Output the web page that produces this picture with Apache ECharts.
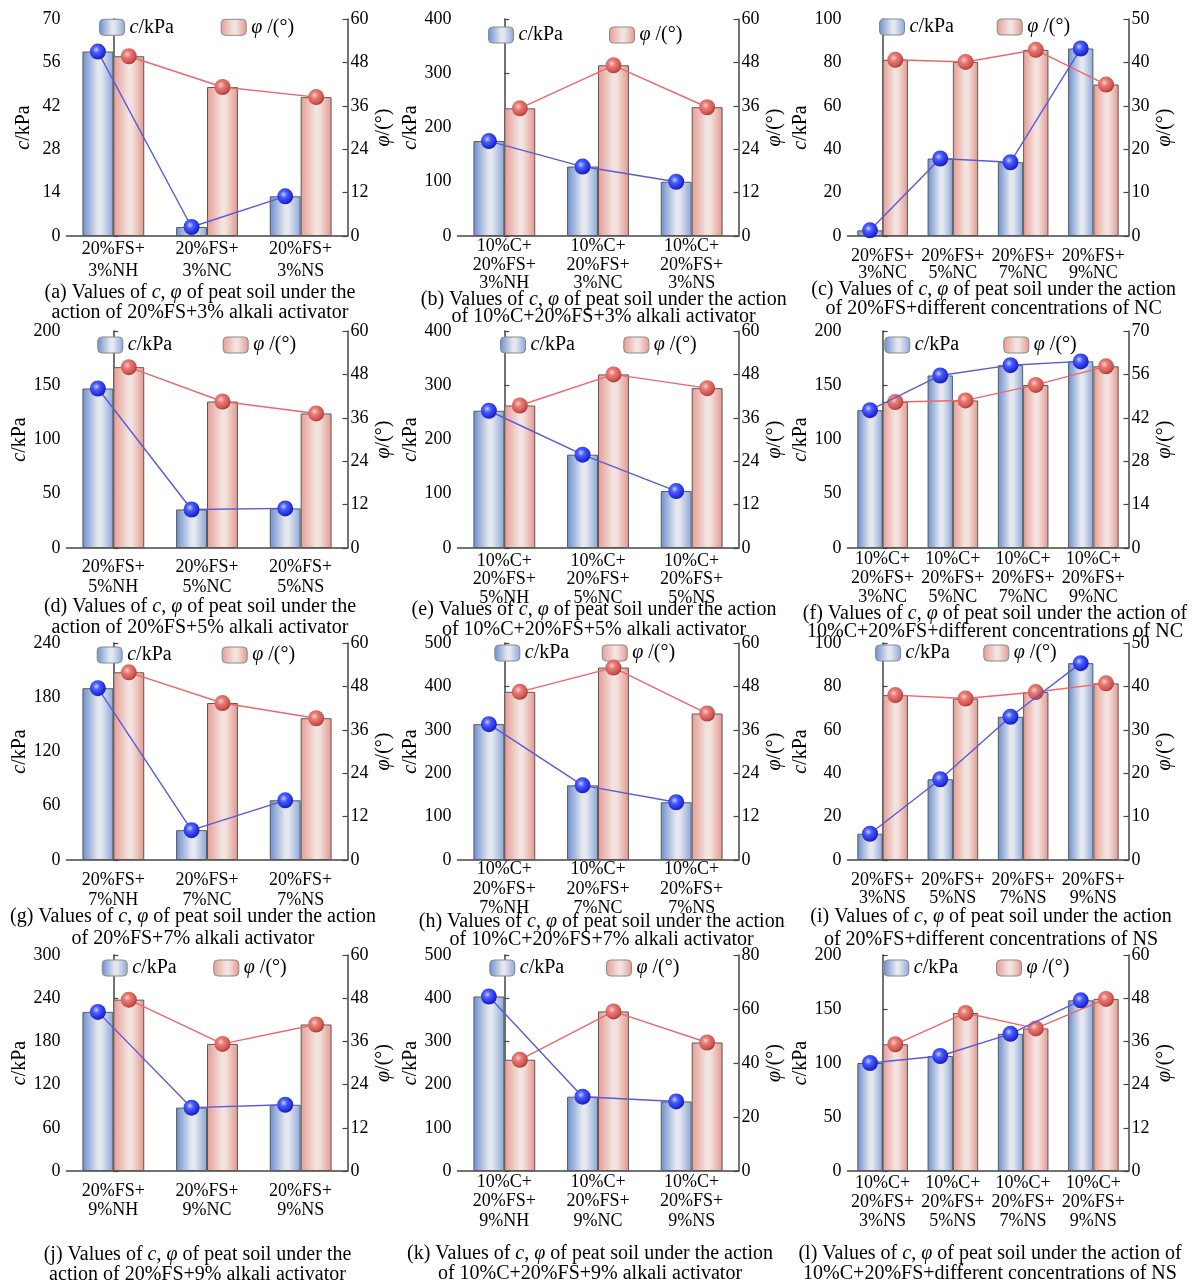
<!DOCTYPE html>
<html>
<head>
<meta charset="utf-8">
<script src="https://cdn.jsdelivr.net/npm/echarts@6/dist/echarts.min.js"></script>
<style>
html,body{margin:0;padding:0;background:#fff;}
#chart{width:1195px;height:1287px;}
</style>
</head>
<body>
<div id="chart"></div>
<script>
// ---- categories ----
const catsA = ['20%FS+\n3%NH', '20%FS+\n3%NC', '20%FS+\n3%NS'];
const catsB = ['10%C+\n20%FS+\n3%NH', '10%C+\n20%FS+\n3%NC', '10%C+\n20%FS+\n3%NS'];
const catsC = ['20%FS+\n3%NC', '20%FS+\n5%NC', '20%FS+\n7%NC', '20%FS+\n9%NC'];
const catsD = ['20%FS+\n5%NH', '20%FS+\n5%NC', '20%FS+\n5%NS'];
const catsE = ['10%C+\n20%FS+\n5%NH', '10%C+\n20%FS+\n5%NC', '10%C+\n20%FS+\n5%NS'];
const catsF = ['10%C+\n20%FS+\n3%NC', '10%C+\n20%FS+\n5%NC', '10%C+\n20%FS+\n7%NC', '10%C+\n20%FS+\n9%NC'];
const catsG = ['20%FS+\n7%NH', '20%FS+\n7%NC', '20%FS+\n7%NS'];
const catsH = ['10%C+\n20%FS+\n7%NH', '10%C+\n20%FS+\n7%NC', '10%C+\n20%FS+\n7%NS'];
const catsI = ['20%FS+\n3%NS', '20%FS+\n5%NS', '20%FS+\n7%NS', '20%FS+\n9%NS'];
const catsJ = ['20%FS+\n9%NH', '20%FS+\n9%NC', '20%FS+\n9%NS'];
const catsK = ['10%C+\n20%FS+\n9%NH', '10%C+\n20%FS+\n9%NC', '10%C+\n20%FS+\n9%NS'];
const catsL = ['10%C+\n20%FS+\n3%NS', '10%C+\n20%FS+\n5%NS', '10%C+\n20%FS+\n7%NS', '10%C+\n20%FS+\n9%NS'];

// ---- cohesion c (kPa) ----
const cA = [59.5, 2.9, 12.8];
const cB = [175, 128, 100];
const cC = [2.6, 35.7, 34.0, 86.4];
const cD = [147, 35.5, 36.5];
const cE = [253, 172, 105];
const cF = [127, 159, 168.5, 172];
const cG = [190, 33, 66];
const cH = [313, 172, 133];
const cI = [12.1, 37.2, 66, 90.7];
const cJ = [221, 88, 92];
const cK = [404, 172, 161];
const cL = [100, 106.5, 127, 158];

// ---- internal friction angle phi (deg) ----
const phiA = [49.7, 41.2, 38.4];
const phiB = [35.3, 47.2, 35.6];
const phiC = [40.6, 40.1, 42.9, 34.9];
const phiD = [50.0, 40.5, 37.2];
const phiE = [39.4, 48.0, 44.2];
const phiF = [47.1, 47.6, 52.6, 58.6];
const phiG = [51.9, 43.4, 39.2];
const phiH = [46.5, 53.2, 40.5];
const phiI = [38.0, 37.2, 38.7, 40.7];
const phiJ = [47.6, 35.3, 40.7];
const phiK = [41.2, 59.1, 47.6];
const phiL = [35.2, 43.9, 39.6, 47.8];

// ---- axis ticks (max, step) ----
const cAxisMax   = [70, 400, 100, 200, 400, 200, 240, 500, 100, 300, 500, 200];
const cAxisStep  = [14, 100, 20, 50, 100, 50, 60, 100, 20, 60, 100, 50];
const phiAxisMax  = [60, 60, 50, 60, 60, 70, 60, 60, 50, 60, 80, 60];
const phiAxisStep = [12, 12, 10, 12, 12, 14, 12, 12, 10, 12, 20, 12];

// ---- sub-figure captions ----
const capA = ['(a) Values of {i|c}, {i|φ} of peat soil under the', 'action of 20%FS+3% alkali activator'];
const capB = ['(b) Values of {i|c}, {i|φ} of peat soil under the action', 'of 10%C+20%FS+3% alkali activator'];
const capC = ['(c) Values of {i|c}, {i|φ} of peat soil under the action', 'of 20%FS+different concentrations of NC'];
const capD = ['(d) Values of {i|c}, {i|φ} of peat soil under the', 'action of 20%FS+5% alkali activator'];
const capE = ['(e) Values of {i|c}, {i|φ} of peat soil under the action', 'of 10%C+20%FS+5% alkali activator'];
const capF = ['(f) Values of {i|c}, {i|φ} of peat soil under the action of', '10%C+20%FS+different concentrations of NC'];
const capG = ['(g) Values of {i|c}, {i|φ} of peat soil under the action', 'of 20%FS+7% alkali activator'];
const capH = ['(h) Values of {i|c}, {i|φ} of peat soil under the action', 'of 10%C+20%FS+7% alkali activator'];
const capI = ['(i) Values of {i|c}, {i|φ} of peat soil under the action', 'of 20%FS+different concentrations of NS'];
const capJ = ['(j) Values of {i|c}, {i|φ} of peat soil under the', 'action of 20%FS+9% alkali activator'];
const capK = ['(k) Values of {i|c}, {i|φ} of peat soil under the action', 'of 10%C+20%FS+9% alkali activator'];
const capL = ['(l) Values of {i|c}, {i|φ} of peat soil under the action of', '10%C+20%FS+different concentrations of NS'];

const allCats = [catsA, catsB, catsC, catsD, catsE, catsF, catsG, catsH, catsI, catsJ, catsK, catsL];
const allC = [cA, cB, cC, cD, cE, cF, cG, cH, cI, cJ, cK, cL];
const allPhi = [phiA, phiB, phiC, phiD, phiE, phiF, phiG, phiH, phiI, phiJ, phiK, phiL];
const allCap = [capA, capB, capC, capD, capE, capF, capG, capH, capI, capJ, capK, capL];

// ---- layout ----
const FONT = '"Liberation Serif", "Times New Roman", Times, serif';
const colLeft = [66.5, 457.5, 847.5];
const plotW = 281;
const rowTop = [19, 331, 643, 955];
const plotH = [217, 217, 217, 216];
const W = 1195, H = 1287;
// category label [lineHeight, margin]
const labelLayout = [[22,2],[18.3,1.5],[16.7,12],[20,9.5],[18.7,3.5],[18.8,2],[20,10],[19.4,0],[18.3,11],[18.3,11.5],[19.4,1.5],[19.2,2.5]];
// legend [x of c item, x of phi item, top]
const legendPos = [[99,220.7,17.3],[488,609,25],[879,996.7,17],[97.3,222.7,335],[500,623.3,335],[884.3,1003.3,335],
  [96.7,221.7,645],[494.3,601.7,643],[875,983.3,643],[101.7,213.3,958],[489.3,606,958],[883.3,996,958]];
// caption [center x, line1 y, line2 y]
const capPos = [[200,293,313],[603.7,300,317],[993.7,290,308.3],[200,606.7,628],[594,610,630],[995,613.3,631.7],
  [193,916.7,938.3],[601.7,921.7,940],[991,916.7,940],[197.5,1255,1275],[590,1253.3,1273.3],[990,1253.3,1273.3]];

const AXIS_COLOR = '#444';
const blueBar = {type:'linear', x:0, y:0, x2:1, y2:0, colorStops:[
  {offset:0, color:'#6a8ecf'}, {offset:0.5, color:'#e6e8ee'}, {offset:0.62, color:'#e2e6ee'}, {offset:1, color:'#8aa6da'}]};
const redBar = {type:'linear', x:0, y:0, x2:1, y2:0, colorStops:[
  {offset:0, color:'#e69c93'}, {offset:0.5, color:'#f3e5e2'}, {offset:0.62, color:'#f1dfdb'}, {offset:1, color:'#e4978c'}]};
const blueDot = {type:'radial', x:0.4, y:0.38, r:0.62, colorStops:[
  {offset:0, color:'#c4ceff'}, {offset:0.35, color:'#4a5cff'}, {offset:0.8, color:'#2330e0'}, {offset:1, color:'#1a20a8'}]};
const redDot = {type:'radial', x:0.4, y:0.38, r:0.62, colorStops:[
  {offset:0, color:'#f8cfc8'}, {offset:0.35, color:'#e77b76'}, {offset:0.8, color:'#d25550'}, {offset:1, color:'#a83c3a'}]};

// rich text styles: n = upright, i = italic symbol
function richSet(size) {
  return {
    n:{fontFamily:FONT, fontSize:size, color:'#000'},
    i:{fontFamily:FONT, fontSize:size, color:'#000', fontStyle:'italic'}
  };
}
// wrap plain runs in {n|...} so every run carries the serif font
function tagPlain(s) {
  return s.split(/(\{i\|[^}]*\})/).filter(t => t.length).map(t => t.startsWith('{i|') ? t : '{n|' + t + '}').join('');
}

const grid = [], xAxis = [], yAxis = [], series = [], legend = [], graphic = [];

allCats.forEach((cats, p) => {
  const col = p % 3, row = Math.floor(p / 3);
  const n = cats.length;
  const bw = n === 3 ? 0.33 : 0.36;
  grid.push({left: colLeft[col], top: rowTop[row], width: plotW, height: plotH[row], containLabel: false});
  // category axis for bars
  xAxis.push({
    type:'category', gridIndex:p, data:cats,
    axisLine:{show:true, lineStyle:{color:AXIS_COLOR, width:1.5}},
    axisTick:{show:false},
    axisLabel:{color:'#000', fontFamily:FONT, fontSize:18, lineHeight:labelLayout[p][0], margin:labelLayout[p][1], interval:0},
    splitLine:{show:false}
  });
  // value axis sharing the same bands, used to place the line markers on each bar
  xAxis.push({type:'value', gridIndex:p, min:-0.5, max:n-0.5, show:false});
  const yBase = {
    type:'value', gridIndex:p, min:0,
    axisLine:{show:true, lineStyle:{color:AXIS_COLOR, width:1.5}},
    axisTick:{show:true, inside:true, length:5, lineStyle:{color:AXIS_COLOR, width:1.2}},
    splitLine:{show:false},
    nameLocation:'middle',
    nameTextStyle:{fontFamily:FONT, fontSize:20, color:'#000', rich:richSet(20)}
  };
  yAxis.push(Object.assign({}, yBase, {
    position:'left', max:cAxisMax[p], interval:cAxisStep[p],
    name:'{i|c}{n|/kPa}', nameGap:33,
    axisLabel:{color:'#000', fontFamily:FONT, fontSize:18, margin:6}
  }));
  yAxis.push(Object.assign({}, yBase, {
    position:'right', max:phiAxisMax[p], interval:phiAxisStep[p],
    name:'{i|φ}{n|/(°)}', nameGap:26, nameRotate:90,
    axisLabel:{color:'#000', fontFamily:FONT, fontSize:18, margin:3}
  }));

  const xa = 2*p, ya = 2*p;
  series.push({
    type:'bar', name:'c/kPa', xAxisIndex:xa, yAxisIndex:ya, data:allC[p],
    barWidth:(bw*100)+'%', barGap:'0%',
    itemStyle:{color:blueBar, borderColor:'#5a5a5a', borderWidth:1}, z:2
  });
  series.push({
    type:'bar', name:'φ/(°)', xAxisIndex:xa, yAxisIndex:ya+1, data:allPhi[p],
    barWidth:(bw*100)+'%', barGap:'0%',
    itemStyle:{color:redBar, borderColor:'#5a5a5a', borderWidth:1}, z:2
  });
  series.push({
    type:'line', name:'c-trend', xAxisIndex:xa+1, yAxisIndex:ya,
    data:allC[p].map((v,k) => [k - bw/2, v]),
    symbol:'circle', symbolSize:16,
    lineStyle:{color:'#5a5ad8', width:1.4},
    itemStyle:{color:blueDot, borderWidth:0}, z:5
  });
  series.push({
    type:'line', name:'phi-trend', xAxisIndex:xa+1, yAxisIndex:ya+1,
    data:allPhi[p].map((v,k) => [k + bw/2, v]),
    symbol:'circle', symbolSize:16,
    lineStyle:{color:'#e8686b', width:1.4},
    itemStyle:{color:redDot, borderWidth:0}, z:4
  });

  const lg = legendPos[p];
  const legendBase = {
    padding:0, itemWidth:25, itemHeight:16, itemGap:0, top:lg[2],
    itemStyle:{borderColor:'#8a8a8a', borderWidth:1},
    textStyle:{fontFamily:FONT, fontSize:20, color:'#000', rich:richSet(20)},
    selectedMode:false
  };
  legend.push(Object.assign({}, legendBase, {left:lg[0], data:['c/kPa'], formatter:() => '{i|c}{n|/kPa}'}));
  legend.push(Object.assign({}, legendBase, {left:lg[1], data:['φ/(°)'], formatter:() => '{i|φ}{n| /(°)}'}));

  const cp = capPos[p];
  allCap[p].forEach((line, li) => {
    graphic.push({
      type:'text', x:cp[0], y:cp[li+1], silent:true,
      style:{
        text:tagPlain(line), align:'center', verticalAlign:'middle',
        fontFamily:FONT, fontSize:20, fill:'#000',
        rich:{
          n:{fontFamily:FONT, fontSize:20, fill:'#000'},
          i:{fontStyle:'italic', fontFamily:FONT, fontSize:20, fill:'#000'}
        }
      }
    });
  });
});

const chart = echarts.init(document.getElementById('chart'), null, {renderer:'canvas', width:W, height:H});
chart.setOption({
  backgroundColor:'#fff',
  animation:false,
  textStyle:{fontFamily:FONT},
  grid, xAxis, yAxis, series, legend, graphic
});
</script>
</body>
</html>
